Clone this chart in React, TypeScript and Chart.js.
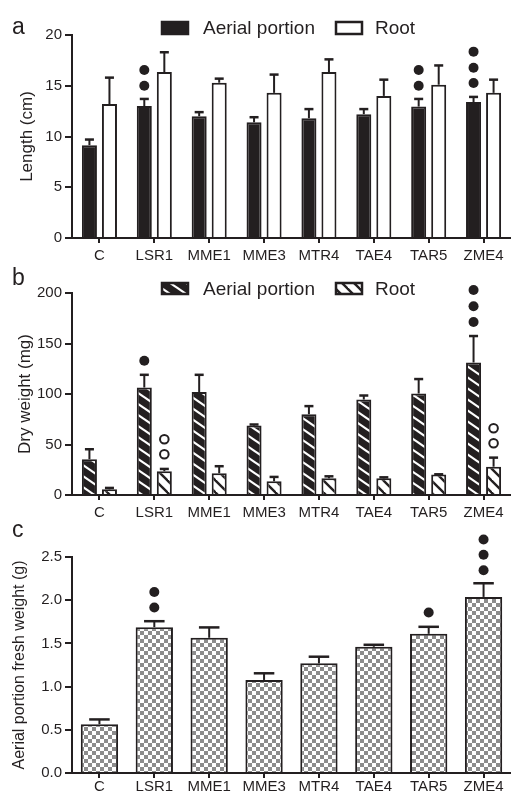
import React, { useEffect, useRef } from 'react';
import { Chart, registerables } from 'chart.js';

Chart.register(...registerables);

// ---------- data ----------
const categories = ['C', 'LSR1', 'MME1', 'MME3', 'MTR4', 'TAE4', 'TAR5', 'ZME4'];
const seriesNames = ['Aerial portion', 'Root'];

// Panel a: length (cm)
const lengthAerial = [9.15, 13.0, 12.0, 11.4, 11.8, 12.2, 12.95, 13.4];
const lengthAerialErr = [0.55, 0.7, 0.4, 0.5, 0.9, 0.5, 0.75, 0.5];
const lengthRoot = [13.2, 16.35, 15.3, 14.3, 16.35, 14.0, 15.1, 14.3];
const lengthRootErr = [2.6, 1.95, 0.4, 1.8, 1.25, 1.6, 1.9, 1.3];
const lengthAerialDots = [[], [15.0, 16.55], [], [], [], [], [15.0, 16.55], [15.27, 16.78, 18.36]];
const lengthTicks = [0, 5, 10, 15, 20];
const lengthTickLabels = ['0', '5', '10', '15', '20'];

// Panel b: dry weight (mg)
const dryAerial = [35.4, 106.4, 102, 68.7, 80, 94.5, 100.5, 131.2];
const dryAerialErr = [9.9, 12.6, 17, 1.1, 8, 4, 14.3, 26.2];
const dryRoot = [5.6, 23.5, 21.5, 13.6, 16.5, 16.5, 20.2, 28];
const dryRootErr = [1.4, 2.3, 7, 4.3, 2, 1, 0.3, 9];
const dryAerialDots = [[], [133], [], [], [], [], [], [171.3, 186.8, 203]];
const dryRootOpenDots = [[], [40.4, 55.2], [], [], [], [], [], [51.3, 66.1]];
const dryTicks = [0, 50, 100, 150, 200];
const dryTickLabels = ['0', '50', '100', '150', '200'];

// Panel c: aerial portion fresh weight (g)
const freshAerial = [0.565, 1.688, 1.565, 1.077, 1.269, 1.461, 1.611, 2.038];
const freshAerialErr = [0.055, 0.069, 0.12, 0.077, 0.077, 0.023, 0.081, 0.158];
const freshAerialDots = [[], [1.915, 2.095], [], [], [], [], [1.858], [2.346, 2.527, 2.703]];
const freshTicks = [0, 0.5, 1.0, 1.5, 2.0, 2.5];
const freshTickLabels = ['0.0', '0.5', '1.0', '1.5', '2.0', '2.5'];

// ---------- styles ----------
const INK = '#231f20';
const FONT = '"Liberation Sans", Arial, Helvetica, sans-serif';

function hatch(bg: string, fg: string, W: number, H: number, lw: number) {
  const c = document.createElement('canvas');
  c.width = W;
  c.height = H;
  const g = c.getContext('2d')!;
  g.fillStyle = bg;
  g.fillRect(0, 0, W, H);
  g.strokeStyle = fg;
  g.lineWidth = lw;
  for (const dx of [-W, 0, W]) {
    g.beginPath();
    g.moveTo(dx - W, -H);
    g.lineTo(dx + 2 * W, 2 * H);
    g.stroke();
  }
  return g.createPattern(c, 'repeat')!;
}

function checker(a: string, b: string, s: number) {
  const c = document.createElement('canvas');
  c.width = 2 * s;
  c.height = 2 * s;
  const g = c.getContext('2d')!;
  g.fillStyle = b;
  g.fillRect(0, 0, 2 * s, 2 * s);
  g.fillStyle = a;
  g.fillRect(0, 0, s, s);
  g.fillRect(s, s, s, s);
  return g.createPattern(c, 'repeat')!;
}

type Panel = {
  letter: string;
  letterBaseline: number;
  legend: { label: string; fill: any }[] | null;
  legendTop: number;
  legendBoxH: number;
  errs: number[][];
  filled: number[][][];
  open: number[][][];
  capRatio: number;
};

function overlay(p: Panel) {
  return {
    id: 'overlay' + p.letter,
    afterDatasetsDraw(chart: any) {
      const ctx: CanvasRenderingContext2D = chart.ctx;
      const ys = chart.scales.y;
      ctx.save();
      ctx.strokeStyle = INK;
      ctx.fillStyle = INK;
      ctx.lineWidth = 2;
      chart.data.datasets.forEach((ds: any, di: number) => {
        const meta = chart.getDatasetMeta(di);
        meta.data.forEach((bar: any, i: number) => {
          const { x, width } = bar.getProps(['x', 'width'], true);
          const top = ys.getPixelForValue(ds.data[i]);
          const et = ys.getPixelForValue(ds.data[i] + p.errs[di][i]);
          ctx.strokeStyle = INK;
          ctx.lineWidth = 2;
          ctx.beginPath();
          ctx.moveTo(x, top);
          ctx.lineTo(x, et);
          ctx.stroke();
          const cw = width * p.capRatio;
          ctx.lineWidth = 2.5;
          ctx.beginPath();
          ctx.moveTo(x - cw / 2, et);
          ctx.lineTo(x + cw / 2, et);
          ctx.stroke();
          const f = (p.filled[di] && p.filled[di][i]) || [];
          f.forEach((v) => {
            ctx.fillStyle = INK;
            ctx.beginPath();
            ctx.arc(x, ys.getPixelForValue(v), 5, 0, Math.PI * 2);
            ctx.fill();
          });
          const o = (p.open[di] && p.open[di][i]) || [];
          o.forEach((v) => {
            ctx.fillStyle = '#fff';
            ctx.strokeStyle = INK;
            ctx.lineWidth = 2;
            ctx.beginPath();
            ctx.arc(x, ys.getPixelForValue(v), 4.3, 0, Math.PI * 2);
            ctx.fill();
            ctx.stroke();
          });
        });
      });
      // panel letter
      ctx.fillStyle = INK;
      ctx.font = `23px ${FONT}`;
      ctx.textBaseline = 'alphabetic';
      ctx.textAlign = 'left';
      ctx.fillText(p.letter, 12, p.letterBaseline);
      // legend
      if (p.legend) {
        const boxX = [161, 335];
        const textX = [203, 375];
        ctx.font = `19px ${FONT}`;
        ctx.textBaseline = 'middle';
        p.legend.forEach((item, k) => {
          ctx.fillStyle = item.fill;
          ctx.fillRect(boxX[k], p.legendTop, 28, p.legendBoxH);
          ctx.strokeStyle = INK;
          ctx.lineWidth = 2.5;
          ctx.strokeRect(boxX[k] + 1, p.legendTop + 1, 26, p.legendBoxH - 2);
          ctx.fillStyle = INK;
          ctx.fillText(item.label, textX[k], p.legendTop + p.legendBoxH / 2 + 1);
        });
      }
      ctx.restore();
    },
  };
}

type AxisCfg = {
  padTop: number;
  xH: number;
  xPad: number;
  min: number;
  max: number;
  ticks: number[];
  tickLabels: string[];
  yTitle: string;
  titleSize: number;
  titlePad: number;
  catPct: number;
  barPct: number;
};

function options(a: AxisCfg): any {
  return {
    responsive: false,
    animation: false,
    devicePixelRatio: 1,
    layout: { padding: { top: a.padTop, left: 0, right: 0, bottom: 0 } },
    plugins: { legend: { display: false }, tooltip: { enabled: false }, title: { display: false } },
    datasets: { bar: { categoryPercentage: a.catPct, barPercentage: a.barPct } },
    scales: {
      x: {
        type: 'category',
        grid: {
          display: true,
          drawOnChartArea: false,
          drawTicks: true,
          tickLength: 5,
          offset: false,
          color: INK,
          lineWidth: 2,
        },
        border: { display: true, color: INK, width: 2 },
        ticks: {
          color: INK,
          font: { family: FONT, size: 15 },
          padding: a.xPad,
          autoSkip: false,
          maxRotation: 0,
        },
        afterFit: (s: any) => {
          s.height = a.xH;
        },
      },
      y: {
        type: 'linear',
        min: a.min,
        max: a.max,
        afterBuildTicks: (s: any) => {
          s.ticks = a.ticks.map((v) => ({ value: v }));
        },
        ticks: {
          color: INK,
          font: { family: FONT, size: 15 },
          padding: 3,
          callback: (_v: any, i: number) => a.tickLabels[i],
        },
        grid: {
          drawOnChartArea: false,
          drawTicks: true,
          tickLength: 7,
          color: INK,
          lineWidth: 2,
        },
        border: { display: true, color: INK, width: 2 },
        title: {
          display: true,
          text: a.yTitle,
          color: INK,
          font: { family: FONT, size: a.titleSize },
          padding: { top: a.titlePad, bottom: 0 },
        },
        afterFit: (s: any) => {
          s.width = 72;
        },
      },
    },
  };
}

export default function App() {
  const ra = useRef<HTMLCanvasElement>(null);
  const rb = useRef<HTMLCanvasElement>(null);
  const rc = useRef<HTMLCanvasElement>(null);

  useEffect(() => {
    const hatchAerial = hatch(INK, '#ffffff', 16, 11, 2.2);
    const hatchRoot = hatch('#ffffff', INK, 12, 12, 2.4);
    const check = checker('#8c8c8c', '#ffffff', 4);

    const pa: Panel = {
      letter: 'a',
      letterBaseline: 34,
      legend: [
        { label: seriesNames[0], fill: INK },
        { label: seriesNames[1], fill: '#ffffff' },
      ],
      legendTop: 21,
      legendBoxH: 14,
      errs: [lengthAerialErr, lengthRootErr],
      filled: [lengthAerialDots, []],
      open: [[], []],
      capRatio: 0.6,
    };
    const pb: Panel = {
      letter: 'b',
      letterBaseline: 20,
      legend: [
        { label: seriesNames[0], fill: hatchAerial },
        { label: seriesNames[1], fill: hatchRoot },
      ],
      legendTop: 17,
      legendBoxH: 13,
      errs: [dryAerialErr, dryRootErr],
      filled: [dryAerialDots, []],
      open: [[], dryRootOpenDots],
      capRatio: 0.6,
    };
    const pc: Panel = {
      letter: 'c',
      letterBaseline: 14,
      legend: null,
      legendTop: 0,
      legendBoxH: 0,
      errs: [freshAerialErr],
      filled: [freshAerialDots],
      open: [[]],
      capRatio: 0.55,
    };

    const barStyle = { borderColor: INK, borderWidth: 2 };

    const ca = new Chart(ra.current!, {
      type: 'bar',
      data: {
        labels: categories,
        datasets: [
          { label: seriesNames[0], data: lengthAerial, backgroundColor: INK, ...barStyle },
          { label: seriesNames[1], data: lengthRoot, backgroundColor: '#ffffff', ...barStyle },
        ],
      },
      options: options({
        padTop: 35, xH: 27, xPad: 4, min: 0, max: 20,
        ticks: lengthTicks, tickLabels: lengthTickLabels,
        yTitle: 'Length (cm)', titleSize: 17, titlePad: 17,
        catPct: 0.73, barPct: 0.75,
      }),
      plugins: [overlay(pa)],
    } as any);

    const cb = new Chart(rb.current!, {
      type: 'bar',
      data: {
        labels: categories,
        datasets: [
          { label: seriesNames[0], data: dryAerial, backgroundColor: hatchAerial, ...barStyle },
          { label: seriesNames[1], data: dryRoot, backgroundColor: hatchRoot, ...barStyle },
        ],
      },
      options: options({
        padTop: 28, xH: 28, xPad: 4, min: 0, max: 200,
        ticks: dryTicks, tickLabels: dryTickLabels,
        yTitle: 'Dry weight (mg)', titleSize: 17, titlePad: 15,
        catPct: 0.73, barPct: 0.75,
      }),
      plugins: [overlay(pb)],
    } as any);

    const cc = new Chart(rc.current!, {
      type: 'bar',
      data: {
        labels: categories,
        datasets: [
          { label: seriesNames[0], data: freshAerial, backgroundColor: check, ...barStyle },
        ],
      },
      options: options({
        padTop: 34, xH: 23, xPad: 0, min: 0, max: 2.5,
        ticks: freshTicks, tickLabels: freshTickLabels,
        yTitle: 'Aerial portion fresh weight (g)', titleSize: 16, titlePad: 10,
        catPct: 0.68, barPct: 1,
      }),
      plugins: [overlay(pc)],
    } as any);

    return () => {
      ca.destroy();
      cb.destroy();
      cc.destroy();
    };
  }, []);

  const cs = (top: number, h: number): React.CSSProperties => ({
    position: 'absolute',
    left: 0,
    top,
    width: 511,
    height: h,
    display: 'block',
  });

  return (
    <div style={{ position: 'absolute', left: 0, top: 0, width: 511, height: 796, background: '#ffffff' }}>
      <canvas ref={ra} width={511} height={265} style={cs(0, 265)} />
      <canvas ref={rb} width={511} height={258} style={cs(265, 258)} />
      <canvas ref={rc} width={511} height={273} style={cs(523, 273)} />
    </div>
  );
}
